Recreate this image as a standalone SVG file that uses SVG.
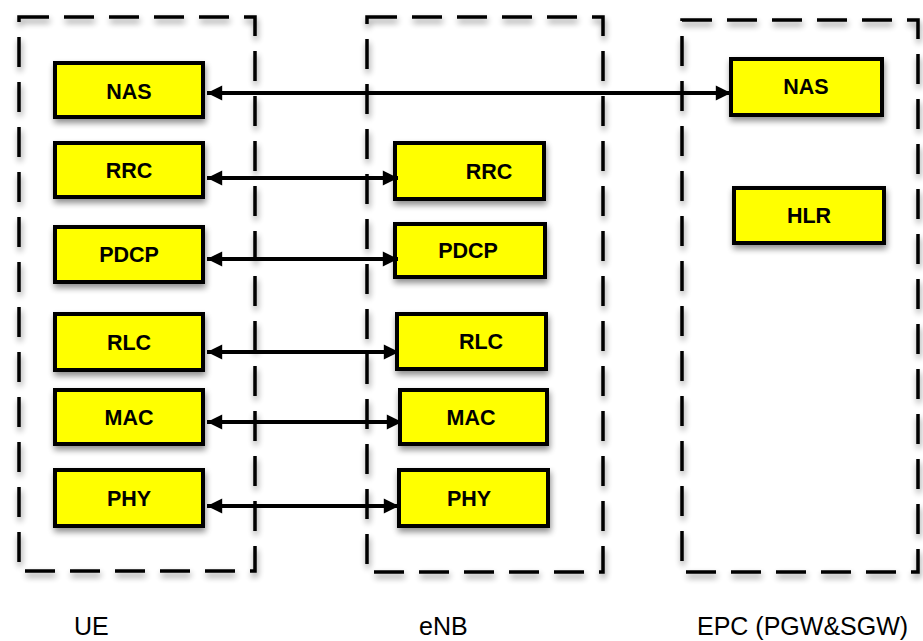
<svg xmlns="http://www.w3.org/2000/svg" width="923" height="641" viewBox="0 0 923 641">
<defs>
<filter id="sh" x="-20%" y="-20%" width="140%" height="150%">
<feGaussianBlur in="SourceAlpha" stdDeviation="3"/>
<feOffset dx="1" dy="4" result="b"/>
<feComponentTransfer><feFuncA type="linear" slope="0.45"/></feComponentTransfer>
<feMerge><feMergeNode/><feMergeNode in="SourceGraphic"/></feMerge>
</filter>
<marker id="ah" viewBox="0 0 10 10" refX="10" refY="5" markerWidth="4.2" markerHeight="3.8" orient="auto-start-reverse" markerUnits="strokeWidth">
<path d="M0,0 L10,5 L0,10 z" fill="#000"/>
</marker>
</defs>
<style>
.grp{fill:none;stroke:#000;stroke-width:3.5;stroke-dasharray:30 15;filter:url(#sh)}
.box{fill:#ffff00;stroke:#000;stroke-width:4;filter:url(#sh)}
.lbl{font-family:"Liberation Sans",Arial,sans-serif;font-weight:bold;font-size:21.5px;fill:#000;text-anchor:middle}
.cap{font-family:"Liberation Sans",Arial,sans-serif;font-size:25px;fill:#000}
.con{stroke:#000;stroke-width:4;fill:none;marker-start:url(#ah);marker-end:url(#ah)}
</style>
<rect width="923" height="641" fill="#fff"/>
<g id="ue-group"><rect class="grp" x="19" y="17" width="236" height="554"/></g>
<g id="enb-group"><rect class="grp" x="367" y="17" width="236" height="555"/></g>
<g id="epc-group"><rect class="grp" x="682" y="20" width="236" height="552"/></g>

<g id="ue-nas"><rect class="box" x="55" y="63" width="148" height="54"/><text class="lbl" x="129" y="99">NAS</text></g>
<g id="ue-rrc"><rect class="box" x="55" y="143" width="148" height="54"/><text class="lbl" x="129" y="178">RRC</text></g>
<g id="ue-pdcp"><rect class="box" x="55" y="227" width="148" height="55"/><text class="lbl" x="129" y="262">PDCP</text></g>
<g id="ue-rlc"><rect class="box" x="55" y="314" width="148" height="56"/><text class="lbl" x="129" y="350">RLC</text></g>
<g id="ue-mac"><rect class="box" x="55" y="390" width="148" height="54"/><text class="lbl" x="129" y="425">MAC</text></g>
<g id="ue-phy"><rect class="box" x="55" y="470" width="148" height="56"/><text class="lbl" x="129" y="506">PHY</text></g>

<g id="enb-rrc"><rect class="box" x="395" y="143" width="149" height="56"/><text class="lbl" x="489" y="179">RRC</text></g>
<g id="enb-pdcp"><rect class="box" x="395" y="224" width="150" height="53"/><text class="lbl" x="468" y="258">PDCP</text></g>
<g id="enb-rlc"><rect class="box" x="397" y="314" width="149" height="55"/><text class="lbl" x="481" y="349">RLC</text></g>
<g id="enb-mac"><rect class="box" x="400" y="390" width="147" height="54"/><text class="lbl" x="471" y="425">MAC</text></g>
<g id="enb-phy"><rect class="box" x="399" y="470" width="149" height="56"/><text class="lbl" x="469" y="506">PHY</text></g>

<g id="epc-nas"><rect class="box" x="731" y="59" width="151" height="56"/><text class="lbl" x="806" y="94">NAS</text></g>
<g id="epc-hlr"><rect class="box" x="734" y="188" width="150" height="55"/><text class="lbl" x="809" y="223">HLR</text></g>

<g id="connectors">
<line class="con" x1="207" y1="93" x2="731" y2="93"/>
<line class="con" x1="207" y1="178" x2="398" y2="178"/>
<line class="con" x1="207" y1="259" x2="398" y2="259"/>
<line class="con" x1="207" y1="352" x2="399" y2="352"/>
<line class="con" x1="207" y1="422" x2="402" y2="422"/>
<line class="con" x1="207" y1="506" x2="399" y2="506"/>
</g>

<text class="cap" x="74" y="635">UE</text>
<text class="cap" x="419" y="635">eNB</text>
<text class="cap" x="697" y="635">EPC (PGW&amp;SGW)</text>
</svg>
